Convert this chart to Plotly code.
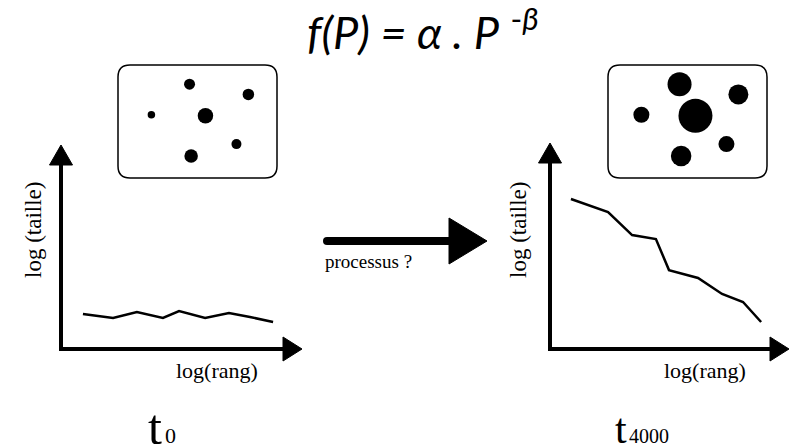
import plotly.graph_objects as go

W, H = 792, 444

# ---- data ----
rank_t0 = [0.91, 2.16, 3.15, 4.23, 4.90, 5.98, 6.97, 7.84, 8.80]
size_t0 = [1.72, 1.52, 1.81, 1.52, 1.86, 1.52, 1.76, 1.57, 1.32]
rank_t4000 = [0.88, 2.44, 3.45, 4.45, 5.00, 6.22, 7.23, 8.11, 8.87]
size_t4000 = [7.28, 6.65, 5.53, 5.34, 3.83, 3.45, 2.67, 2.28, 1.31]

city_x = [4.5, 8.2, 2.1, 5.5, 7.45, 4.6]
city_y = [8.3, 7.4, 5.6, 5.5, 3.0, 1.95]
city_d_t0 = [11, 11.5, 7.5, 15.5, 10, 13.5]
city_d_t4000 = [24, 20, 16, 34, 16, 20.5]

SERIF = "Liberation Serif, Times New Roman, serif"

fig = go.Figure()


def dom_x(a, b):
    return [a / W, b / W]


def dom_y(top, bottom):
    return [1 - bottom / H, 1 - top / H]


# charts
fig.add_trace(go.Scatter(x=rank_t0, y=size_t0, mode="lines",
                         line=dict(color="black", width=2.5),
                         xaxis="x2", yaxis="y2", hoverinfo="skip"))
fig.add_trace(go.Scatter(x=rank_t4000, y=size_t4000, mode="lines",
                         line=dict(color="black", width=2.5),
                         xaxis="x3", yaxis="y3", hoverinfo="skip"))
# boxes with cities
fig.add_trace(go.Scatter(x=city_x, y=city_y, mode="markers",
                         marker=dict(color="black", opacity=1, size=city_d_t0, line=dict(width=0)),
                         xaxis="x4", yaxis="y4", hoverinfo="skip"))
fig.add_trace(go.Scatter(x=city_x, y=city_y, mode="markers",
                         marker=dict(color="black", opacity=1, size=city_d_t4000, line=dict(width=0)),
                         xaxis="x5", yaxis="y5", hoverinfo="skip"))

hidden = dict(visible=False, fixedrange=True, showgrid=False, zeroline=False)

layout = dict(
    width=W, height=H, margin=dict(l=0, r=0, t=0, b=0),
    paper_bgcolor="white", plot_bgcolor="rgba(0,0,0,0)",
    showlegend=False,
    xaxis=dict(range=[0, W], domain=[0, 1], **hidden),
    yaxis=dict(range=[H, 0], domain=[0, 1], **hidden),
    xaxis2=dict(range=[0, 10], domain=dom_x(61, 302), anchor="y2", **hidden),
    yaxis2=dict(range=[0, 10], domain=dom_y(145, 349), anchor="x2", **hidden),
    xaxis3=dict(range=[0, 10], domain=dom_x(550, 788), anchor="y3", **hidden),
    yaxis3=dict(range=[0, 10], domain=dom_y(143, 349), anchor="x3", **hidden),
    xaxis4=dict(range=[0, 10], domain=dom_x(118, 277), anchor="y4", **hidden),
    yaxis4=dict(range=[0, 10], domain=dom_y(65, 178), anchor="x4", **hidden),
    xaxis5=dict(range=[0, 10], domain=dom_x(608, 767), anchor="y5", **hidden),
    yaxis5=dict(range=[0, 10], domain=dom_y(65, 178), anchor="x5", **hidden),
)
fig.update_layout(**layout)


def rounded_rect(x0, y0, x1, y1, r):
    return (f"M {x0+r},{y0} L {x1-r},{y0} Q {x1},{y0} {x1},{y0+r} "
            f"L {x1},{y1-r} Q {x1},{y1} {x1-r},{y1} L {x0+r},{y1} "
            f"Q {x0},{y1} {x0},{y1-r} L {x0},{y0+r} Q {x0},{y0} {x0+r},{y0} Z")


shapes = []
for bx in (118, 608):
    shapes.append(dict(type="path", path=rounded_rect(bx, 65, bx + 159, 178, 12),
                       xref="x", yref="y", line=dict(color="black", width=1.5),
                       fillcolor="rgba(0,0,0,0)", layer="below"))


def tri(p1, p2, p3):
    return dict(type="path", xref="x", yref="y",
                path=f"M {p1[0]},{p1[1]} L {p2[0]},{p2[1]} L {p3[0]},{p3[1]} Z",
                fillcolor="black", line=dict(color="black", width=1))


def seg(x0, y0, x1, y1, w):
    return dict(type="line", xref="x", yref="y", x0=x0, y0=y0, x1=x1, y1=y1,
                line=dict(color="black", width=w))


# left chart axes
shapes += [seg(61, 351, 61, 162, 4), seg(59, 349, 285, 349, 4),
           tri((61, 145), (49.5, 165), (72.5, 165)),
           tri((302, 349), (283, 337), (283, 361))]
# right chart axes
shapes += [seg(550, 351, 550, 160, 4), seg(548, 349, 773, 349, 4),
           tri((550, 143), (538.5, 163), (561.5, 163)),
           tri((789, 349), (770, 337), (770, 361))]
# middle arrow
shapes += [dict(type="line", xref="x", yref="y", x0=327, y0=241, x1=452, y1=241,
                line=dict(color="black", width=8)),
           dict(type="circle", xref="x", yref="y", x0=323, y0=237, x1=331, y1=245,
                fillcolor="black", line=dict(width=0)),
           tri((487, 241), (449, 218), (449, 264))]
fig.update_layout(shapes=shapes)

ann = []


def text(t, x, y, size, family=SERIF, angle=0, xanchor="center", yanchor="middle"):
    ann.append(dict(text=t, x=x, y=y, xref="x", yref="y", showarrow=False,
                    font=dict(family=family, size=size, color="black"),
                    textangle=angle, xanchor=xanchor, yanchor=yanchor))


text("<i>f(P) = α . P</i> <sup>-<i>β</i></sup>", 423, 29, 45, family="Lato, Open Sans, sans-serif")
text("log (taille)", 33, 230, 23, angle=-90)
text("log (taille)", 518, 230, 23, angle=-90)
text("log(rang)", 217, 370, 22)
text("log(rang)", 705, 370, 22)
text("processus ?", 323, 261, 19, xanchor="left")
text("t", 155, 427, 50)
text("0", 163, 435, 22, xanchor="left")
text("t", 621, 429, 42)
text("4000", 627, 436, 20, xanchor="left")
fig.update_layout(annotations=ann)

fig.write_html("out.html", config={"displayModeBar": False},
               post_script="document.body.style.margin='0';document.body.style.padding='0';")
